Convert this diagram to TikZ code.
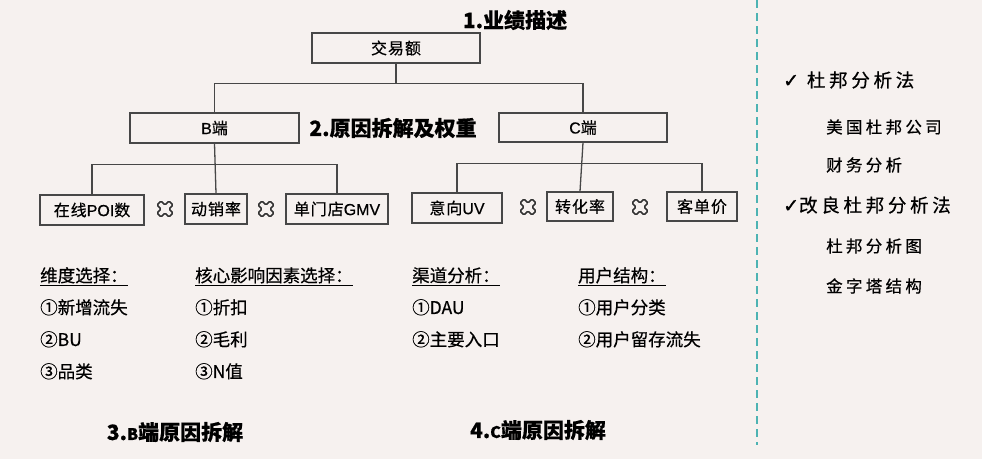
\documentclass[tikz,border=0pt]{standalone}
\usepackage{fontspec}
\setmainfont{Noto Sans CJK SC}[RawFeature={embolden=0.5}]
\newfontfamily\enfont{Liberation Sans}[RawFeature={embolden=0.5}]
\newfontfamily\symfont{DejaVu Sans}[RawFeature={embolden=1.5}]
\newfontfamily\spfont{Noto Sans CJK SC}[LetterSpace=20,RawFeature={embolden=0.6}]
\newfontfamily\boxfont{Noto Sans CJK SC}[LetterSpace=6,RawFeature={embolden=0.5}]
\newcommand\en[1]{{\enfont #1}}
\newcommand\tick{{\symfont\fontsize{19}{20}\selectfont ✓}}
\usetikzlibrary{positioning,calc}
\definecolor{bgpaper}{HTML}{F6F1EF}
\definecolor{boxline}{HTML}{474747}
\definecolor{dashteal}{HTML}{4DB3B3}
\tikzset{
  box/.style={draw=boxline, line width=1.3pt, minimum height=30pt, inner sep=0pt,
    font=\boxfont\fontsize{16}{18}\selectfont},
  link/.style={draw=boxline, line width=1.3pt},
  title/.style={inner sep=0pt, font=\fontsize{21}{24}\bfseries\selectfont},
  factors/.style={anchor=north west, inner sep=0pt, align=left,
    font=\fontsize{17.5}{32}\selectfont},
  method/.style={anchor=west, inner sep=0pt, font=\spfont\fontsize{18.5}{20}\selectfont},
  submethod/.style={anchor=west, inner sep=0pt, font=\spfont\fontsize{16.5}{18}\selectfont},
  times/.pic={\draw[black!80, line width=1.5pt, rounded corners=1.2pt, rotate=45]
    (-2.8,-8.5)--(2.8,-8.5)--(2.8,-2.8)--(8.5,-2.8)--(8.5,2.8)--(2.8,2.8)--(2.8,8.5)
    --(-2.8,8.5)--(-2.8,2.8)--(-8.5,2.8)--(-8.5,-2.8)--(-2.8,-2.8)--cycle;}
}
\begin{document}
\begin{tikzpicture}[x=1pt,y=-1pt]
\fill[bgpaper] (0,0) rectangle (982,459);
\useasboundingbox (0,0) rectangle (982,459);

% 1. tree of the turnover
\node[title] (h1) at (515,20) {1.业绩描述};
\node[box, minimum width=168pt] (jy) at (396,48) {交易额};
\node[box, minimum width=169pt] (B) at (214.5,128) {\en{B}端};
\node[box, minimum width=168pt, minimum height=29pt] (C) at (583,127.5) {\en{C}端};
\node[title] (h2) at (393,128) {2.原因拆解及权重};

\coordinate (t1) at ($(jy.south)+(0,20)$);
\draw[link] (jy.south) -- (t1);
\draw[link] (B.north) |- (t1) -| (C.north);

% B side
\node[box, minimum width=104pt] (poi) at (92,210) {在线\en{POI}数};
\node[box, minimum width=62pt] (dx) at (216,209) {动销率};
\node[box, minimum width=102pt] (gmv) at (337,209) {单门店\en{GMV}};
\pic at (165,209) {times};
\pic at (266,209) {times};
\coordinate (t2) at ($(B.south)+(0,21)$);
\draw[link] (B.south) -- (dx.north);
\draw[link] (poi.north) |- (t2) -| (gmv.north);

% C side
\node[box, minimum width=90pt] (uv) at (457,208) {意向\en{UV}};
\node[box, minimum width=66pt, minimum height=29pt] (zh) at (580,206.5) {转化率};
\node[box, minimum width=70pt, minimum height=29pt] (kd) at (702,206.5) {客单价};
\pic at (528,207) {times};
\pic at (640,207) {times};
\coordinate (t3) at ($(C.south)+(0,21)$);
\draw[link] (C.south) -- (zh.north);
\draw[link] (uv.north) |- (t3) -| (kd.north);

% 3./4. factor lists
\node[factors] (dim) at (40,267) {\underline{维度选择：}\\①新增流失\\②BU\\③品类};
\node[factors] (core) at (195,267) {\underline{核心影响因素选择：}\\①折扣\\②毛利\\③N值};
\node[factors] (chan) at (412,267) {\underline{渠道分析：}\\①DAU\\②主要入口};
\node[factors] (user) at (578,267) {\underline{用户结构：}\\①用户分类\\②用户留存流失};
\node[title] (h3) at (175,432) {3.{\fontsize{16}{18}\selectfont B}端原因拆解};
\node[title] (h4) at (538,430) {4.{\fontsize{16}{18}\selectfont C}端原因拆解};

% methods on the right
\draw[dashteal, line width=1.5pt, dash pattern=on 8pt off 5pt] (757,0) -- (757,445);
\node[method] (dp) at (783,80) {\tick\ 杜邦分析法};
\node[submethod] (dp1) at (826,127) {美国杜邦公司};
\node[submethod] (dp2) at (826,165) {财务分析};
\node[method] (gl) at (783,205) {\tick 改良杜邦分析法};
\node[submethod] (gl1) at (826,246) {杜邦分析图};
\node[submethod] (gl2) at (826,286) {金字塔结构};
\end{tikzpicture}
\end{document}
